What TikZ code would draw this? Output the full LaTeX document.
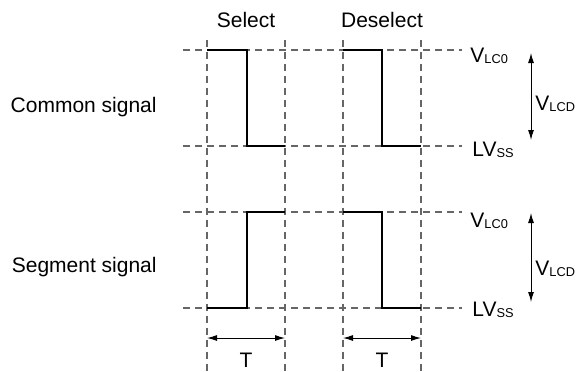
\documentclass[tikz,border=0pt]{standalone}
\usepackage{fontspec}
\setmainfont{Liberation Sans}
\usetikzlibrary{arrows.meta, positioning}
\newcommand\lvsub[1]{\raisebox{-0.15ex}{\fontsize{6.4}{7}\selectfont #1}}

\begin{document}
\begin{tikzpicture}[
        x=0.5pt, y=-0.5pt,
        gridline/.style={
            draw=black!60, line width=0.55pt, dash pattern=on 3.5pt off 2.5pt
        },
        wave/.style={
            draw=black, line width=1.2pt
        },
        dimarrow/.style={
            line width=0.5pt, {Latex[length=5pt,width=3pt]}-{Latex[length=5pt,width=3pt]}
        },
        txt/.style={
            inner sep=0pt, font=\fontsize{10.5}{12}\selectfont
        }
    ]
        \useasboundingbox (0,0) rectangle (578,371);

        % Grid
        \foreach \y in {50,146,212,308}
            \draw [gridline] (183,\y) -- (462,\y);
        \foreach \x in {207,285,343,421}
            \draw [gridline] (\x,40) -- (\x,371);

        % Column and row labels
        \node (select) [txt, anchor=base] at (246,27) {Select};
        \node (deselect) [txt, anchor=base] at (382,27) {Deselect};
        \node (common) [txt, anchor=base east] at (157,112) {Common signal};
        \node (segment) [txt, anchor=base east] at (157,272) {Segment signal};

        % Waveforms
        \draw [wave] (207,50) -- (247,50) -- (247,146) -- (285,146);
        \draw [wave] (343,50) -- (382,50) -- (382,146) -- (421,146);
        \draw [wave] (207,308) -- (247,308) -- (247,212) -- (285,212);
        \draw [wave] (343,212) -- (382,212) -- (382,308) -- (421,308);

        % Levels
        \node (vlcA) [txt, anchor=base west] at (470,62) {V\lvsub{LC0}};
        \node (vssA) [txt, anchor=base west] at (472,156) {LV\lvsub{SS}};
        \node (vlcB) [txt, anchor=base west] at (470,227) {V\lvsub{LC0}};
        \node (vssB) [txt, anchor=base west] at (472,316) {LV\lvsub{SS}};
        \node (vlcdA) [txt, anchor=base west] at (535,110) {V\lvsub{LCD}};
        \node (vlcdB) [txt, anchor=base west] at (535,275) {V\lvsub{LCD}};

        \coordinate (topA) at (531,53);
        \coordinate (botA) at (531,140);
        \coordinate (topB) at (531,213);
        \coordinate (botB) at (531,302);
        \draw [dimarrow] (topA) -- (botA);
        \draw [dimarrow] (topB) -- (botB);

        % Period
        \coordinate (tAl) at (207,338);
        \coordinate (tAr) at (285,338);
        \coordinate (tBl) at (343,338);
        \coordinate (tBr) at (421,338);
        \draw [dimarrow] (tAl) -- (tAr);
        \draw [dimarrow] (tBl) -- (tBr);
        \node (periodA) [txt, anchor=base] at (246,367) {T};
        \node (periodB) [txt, anchor=base] at (382,367) {T};
    \end{tikzpicture}
\end{document}
